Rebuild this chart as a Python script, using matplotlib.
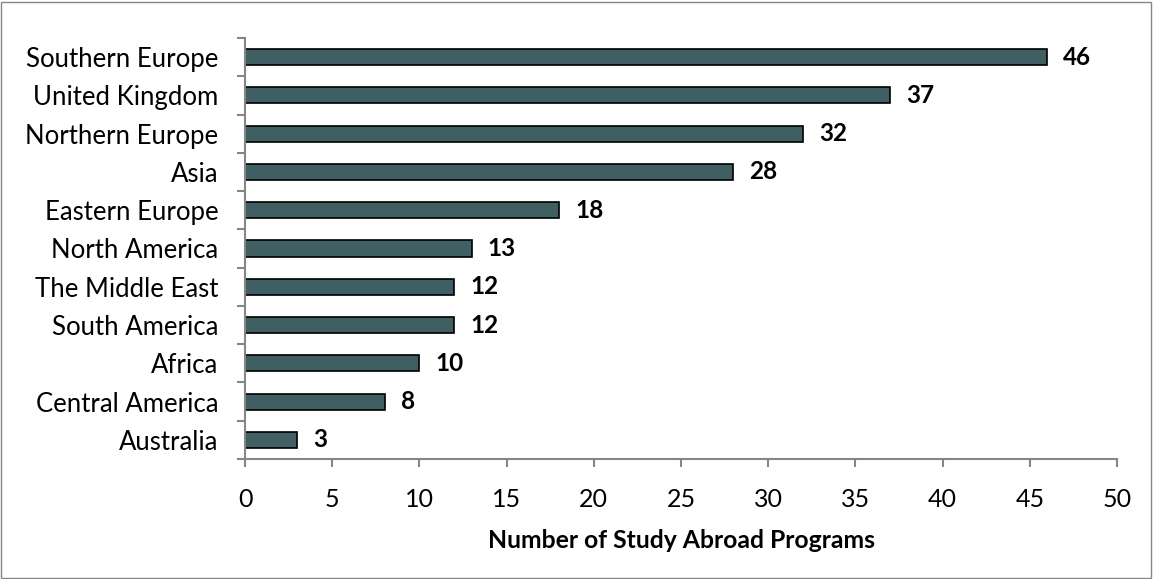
import matplotlib
matplotlib.use("Agg")
import matplotlib.pyplot as plt

regions = ["Southern Europe", "United Kingdom", "Northern Europe", "Asia",
           "Eastern Europe", "North America", "The Middle East", "South America",
           "Africa", "Central America", "Australia"]
programs = [46, 37, 32, 28, 18, 13, 12, 12, 10, 8, 3]

plt.rcParams["font.family"] = ["Lato", "DejaVu Sans"]

fig = plt.figure(figsize=(11.53, 5.79), dpi=100)
ax = fig.add_axes([0.2125, 0.2073, 0.9688 - 0.2125, 0.9344 - 0.2073])

ypos = list(range(len(regions)))[::-1]
ax.barh(ypos, programs, height=0.42, color="#3f5f63",
        edgecolor="black", linewidth=1.2)
for y, v in zip(ypos, programs):
    ax.annotate(str(v), (v, y), xytext=(11.5, 0), textcoords="offset points",
                va="center", ha="left", fontsize=17.5, fontweight="bold")

ax.set_xlim(0, 50)
ax.set_ylim(-0.5, len(regions) - 0.5)
ax.set_xticks(range(0, 51, 5))
ax.set_yticks(ypos)
ax.set_yticklabels(regions, fontsize=18.5)
ax.set_yticks([i - 0.5 for i in range(len(regions) + 1)], minor=True)
ax.tick_params(axis="y", which="major", length=0, pad=19)
ax.tick_params(axis="y", which="minor", length=6, width=1.5, color="#868686")
ax.tick_params(axis="x", length=6, width=1.5, color="#868686", labelsize=18, pad=15)
for s in ["top", "right"]:
    ax.spines[s].set_visible(False)
for s in ["left", "bottom"]:
    ax.spines[s].set_color("#868686")
    ax.spines[s].set_linewidth(1.5)
ax.set_xlabel("Number of Study Abroad Programs", fontsize=17.8, fontweight="bold", labelpad=13)

border = plt.Rectangle((0.001, 0.002), 0.997, 0.995, transform=fig.transFigure,
                       fill=False, edgecolor="#868686", linewidth=1)
fig.patches.append(border)

fig.savefig("out.png", dpi=100)
